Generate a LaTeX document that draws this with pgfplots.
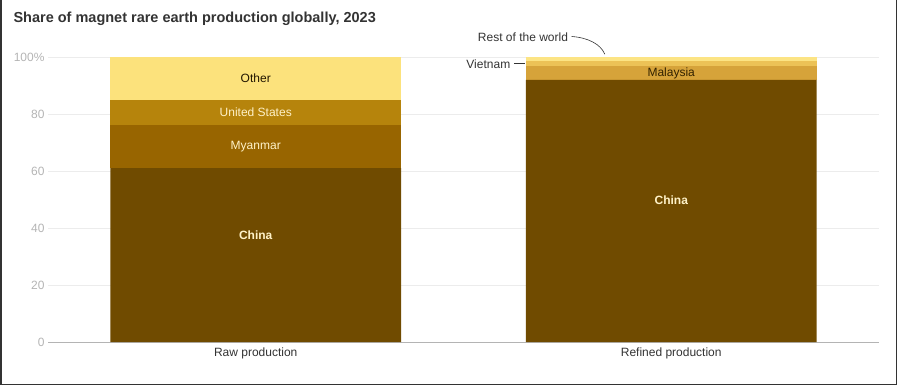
\documentclass[border=0pt]{standalone}
\usepackage{pgfplots}
\pgfplotsset{compat=1.18}
\usepackage{fontspec}
\setmainfont{Liberation Sans}
\definecolor{cChina}{RGB}{112,75,0}
\definecolor{cMyanmar}{RGB}{152,101,0}
\definecolor{cUS}{RGB}{182,132,12}
\definecolor{cOther}{RGB}{252,226,124}
\definecolor{cMalaysia}{RGB}{214,163,58}
\definecolor{cVietnam}{RGB}{236,194,86}
\definecolor{cRest}{RGB}{252,228,132}
\definecolor{tickgray}{RGB}{180,180,180}
\definecolor{gridgray}{RGB}{236,236,236}
\definecolor{txt}{RGB}{51,51,51}
\definecolor{cream}{RGB}{255,242,200}
\begin{document}
\begin{tikzpicture}
\path[use as bounding box] (0pt,0pt) rectangle (900pt,386pt);
\draw[black!80,line width=1.5pt] (0.75pt,1.75pt) rectangle (896.5pt,386.5pt);
\node[anchor=west,text=txt,font=\fontsize{14.5}{16}\selectfont\bfseries] at (10pt,367pt) {Share of magnet rare earth production globally, 2023};
\begin{axis}[
  at={(48pt,44pt)}, anchor=south west,
  scale only axis, width=831pt, height=285pt,
  xmin=-0.5, xmax=1.5, ymin=0, ymax=100,
  ybar stacked, bar width=0.7,
  axis line style={draw=none},
  axis x line*=bottom,
  x axis line style={draw=tickgray,line width=0.8pt},
  ymajorgrids, grid style={gridgray,line width=0.6pt},
  major tick length=0pt,
  xtick={0,1}, xticklabels={Raw production,Refined production},
  xticklabel style={text=txt,font=\fontsize{12}{14}\selectfont,yshift=-2pt},
  ytick={0,20,40,60,80,100}, yticklabels={0,20,40,60,80,100\%},
  yticklabel style={text=tickgray,font=\fontsize{12}{14}\selectfont,xshift=0pt},
  /pgf/number format/assume math mode=true,
  clip=false,
]
\addplot[fill=cChina,draw=none] coordinates {(0,61) (1,92)};
\addplot[fill=cMyanmar,draw=none] coordinates {(0,15) (1,0)};
\addplot[fill=cUS,draw=none] coordinates {(0,9) (1,0)};
\addplot[fill=cOther,draw=none] coordinates {(0,15) (1,0)};
\addplot[fill=cMalaysia,draw=none] coordinates {(0,0) (1,5)};
\addplot[fill=cVietnam,draw=none] coordinates {(0,0) (1,1.5)};
\addplot[fill=cRest,draw=none] coordinates {(0,0) (1,1.5)};
\coordinate (lChinaA) at (axis cs:0,37.5);
\coordinate (lMyan) at (axis cs:0,68.5);
\coordinate (lUS) at (axis cs:0,80.5);
\coordinate (lOther) at (axis cs:0,92.5);
\coordinate (lChinaB) at (axis cs:1,49.8);
\coordinate (lMal) at (axis cs:1,94.2);
\coordinate (lViet) at (axis cs:0.613,97.3);
\coordinate (vA) at (axis cs:0.621,97.7);
\coordinate (vB) at (axis cs:0.648,97.7);
\coordinate (lRest) at (axis cs:0.752,106.9);
\coordinate (rA) at (axis cs:0.76,107.2);
\coordinate (rC1) at (axis cs:0.8,106.8);
\coordinate (rC2) at (axis cs:0.83,104.5);
\coordinate (rB) at (axis cs:0.84,101.0);
\end{axis}
\node[text=cream,font=\fontsize{12}{14}\selectfont\bfseries] at (lChinaA) {China};
\node[text=cream,font=\fontsize{12}{14}\selectfont] at (lMyan) {Myanmar};
\node[text=cream,font=\fontsize{12}{14}\selectfont] at (lUS) {United States};
\node[text=black!70!cChina,font=\fontsize{12}{14}\selectfont] at (lOther) {Other};
\node[text=cream,font=\fontsize{12}{14}\selectfont\bfseries] at (lChinaB) {China};
\node[text=black!55!cChina,font=\fontsize{12}{14}\selectfont] at (lMal) {Malaysia};
\node[anchor=east,text=txt,font=\fontsize{12}{14}\selectfont,inner sep=0pt] at (lViet) {Vietnam};
\draw[txt,line width=0.6pt] (vA) -- (vB);
\node[anchor=east,text=txt,font=\fontsize{12}{14}\selectfont,inner sep=0pt] at (lRest) {Rest of the world};
\draw[txt,line width=0.6pt] (rA) .. controls (rC1) and (rC2) .. (rB);
\end{tikzpicture}
\end{document}
